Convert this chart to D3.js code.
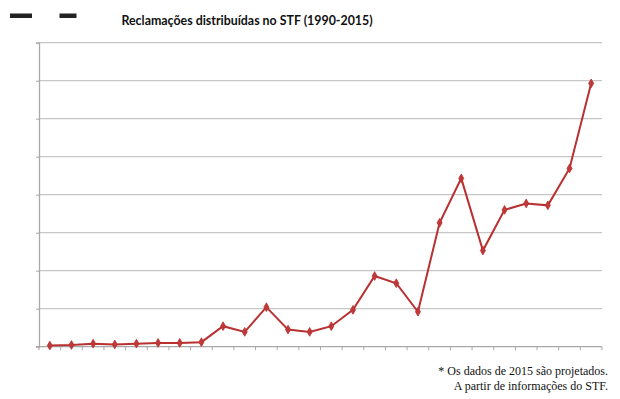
<!DOCTYPE html>
<html><head><meta charset="utf-8">
<script src="https://cdn.jsdelivr.net/npm/d3@7"></script>
<style>
html,body{margin:0;padding:0;background:#fff;}
svg{display:block;}
</style></head>
<body>
<svg id="chart" width="620" height="399"></svg>
<script>
const years = d3.range(1990, 2016).map(String);
const reclamacoes = [0.03,0.045,0.08,0.06,0.08,0.1,0.1,0.12,0.54,0.39,1.04,0.45,0.39,0.54,0.97,1.86,1.67,0.92,3.26,4.43,2.53,3.6,3.77,3.72,4.69,6.93];
const yTicks = [0,1,2,3,4,5,6,7,8];
const title = "Reclamações distribuídas no STF (1990-2015)";
const notes = ["* Os dados de 2015 são projetados.", "A partir de informações do STF."];

const svg = d3.select("#chart");
const mLeft = 39, mRight = 602, mTop = 42.7, mBottom = 346.7;

const x = d3.scaleBand().domain(years).range([mLeft, mRight]);
const y = d3.scaleLinear().domain([0, 8]).range([mBottom, mTop]);

// gridlines
svg.append("g").selectAll("line").data(yTicks.slice(1)).join("line")
  .attr("x1", mLeft).attr("x2", mRight)
  .attr("y1", d => y(d)).attr("y2", d => y(d))
  .attr("stroke", "#c6c6c6").attr("stroke-width", 1.3);

// y axis
const yAxis = d3.axisLeft(y).tickValues(yTicks).tickSize(3).tickFormat("");
const gy = svg.append("g").attr("transform", `translate(${mLeft},0)`).call(yAxis);
gy.select(".domain").attr("stroke", "#a8a8a8").attr("stroke-width", 1.3);
gy.selectAll(".tick line").attr("stroke", "#a8a8a8");

// x axis with ticks at band boundaries
const gx = svg.append("g").attr("transform", `translate(0,${mBottom})`);
gx.append("line").attr("x1", mLeft - 3).attr("x2", mRight).attr("y1", 0).attr("y2", 0)
  .attr("stroke", "#a8a8a8").attr("stroke-width", 1.3);
const bounds = years.map(d => x(d)).concat([mRight]);
gx.selectAll("line.t").data(bounds).join("line").attr("class","t")
  .attr("x1", d => d).attr("x2", d => d).attr("y1", 0).attr("y2", 3.5)
  .attr("stroke", "#a8a8a8").attr("stroke-width", 1);

// line
const cx = d => x(d) + x.bandwidth() / 2;
const line = d3.line().x((d, i) => cx(years[i])).y(d => y(d));
svg.append("path").datum(reclamacoes).attr("d", line)
  .attr("fill", "none").attr("stroke", "#b8302f").attr("stroke-width", 2);

// markers
svg.append("g").selectAll("path").data(reclamacoes).join("path")
  .attr("d", d3.symbol().type(d3.symbolDiamond).size(22))
  .attr("transform", (d, i) => `translate(${cx(years[i])},${y(d)})`)
  .attr("fill", "#c0393a").attr("stroke", "#b8302f").attr("stroke-width", 0.8);

// title
svg.append("text").attr("x", 247).attr("y", 24.5).attr("text-anchor", "middle")
  .style("font-family", '"Lato", "Open Sans", sans-serif').attr("font-weight", "bold")
  .attr("font-size", 12.4).attr("fill", "#111").text(title);

// tiny blobs top-left (unreadable legend marks)
svg.append("rect").attr("x", 10).attr("y", 13.5).attr("width", 22).attr("height", 4.5).attr("fill", "#222");
svg.append("rect").attr("x", 59.5).attr("y", 13.5).attr("width", 17).attr("height", 4.5).attr("fill", "#222");

// notes
svg.append("g").selectAll("text").data(notes).join("text")
  .attr("x", 608).attr("y", (d, i) => 374.5 + i * 15).attr("text-anchor", "end")
  .style("font-family", '"Liberation Serif", "Times New Roman", serif')
  .attr("font-size", 12).attr("fill", "#111").text(d => d);
</script>
</body></html>
